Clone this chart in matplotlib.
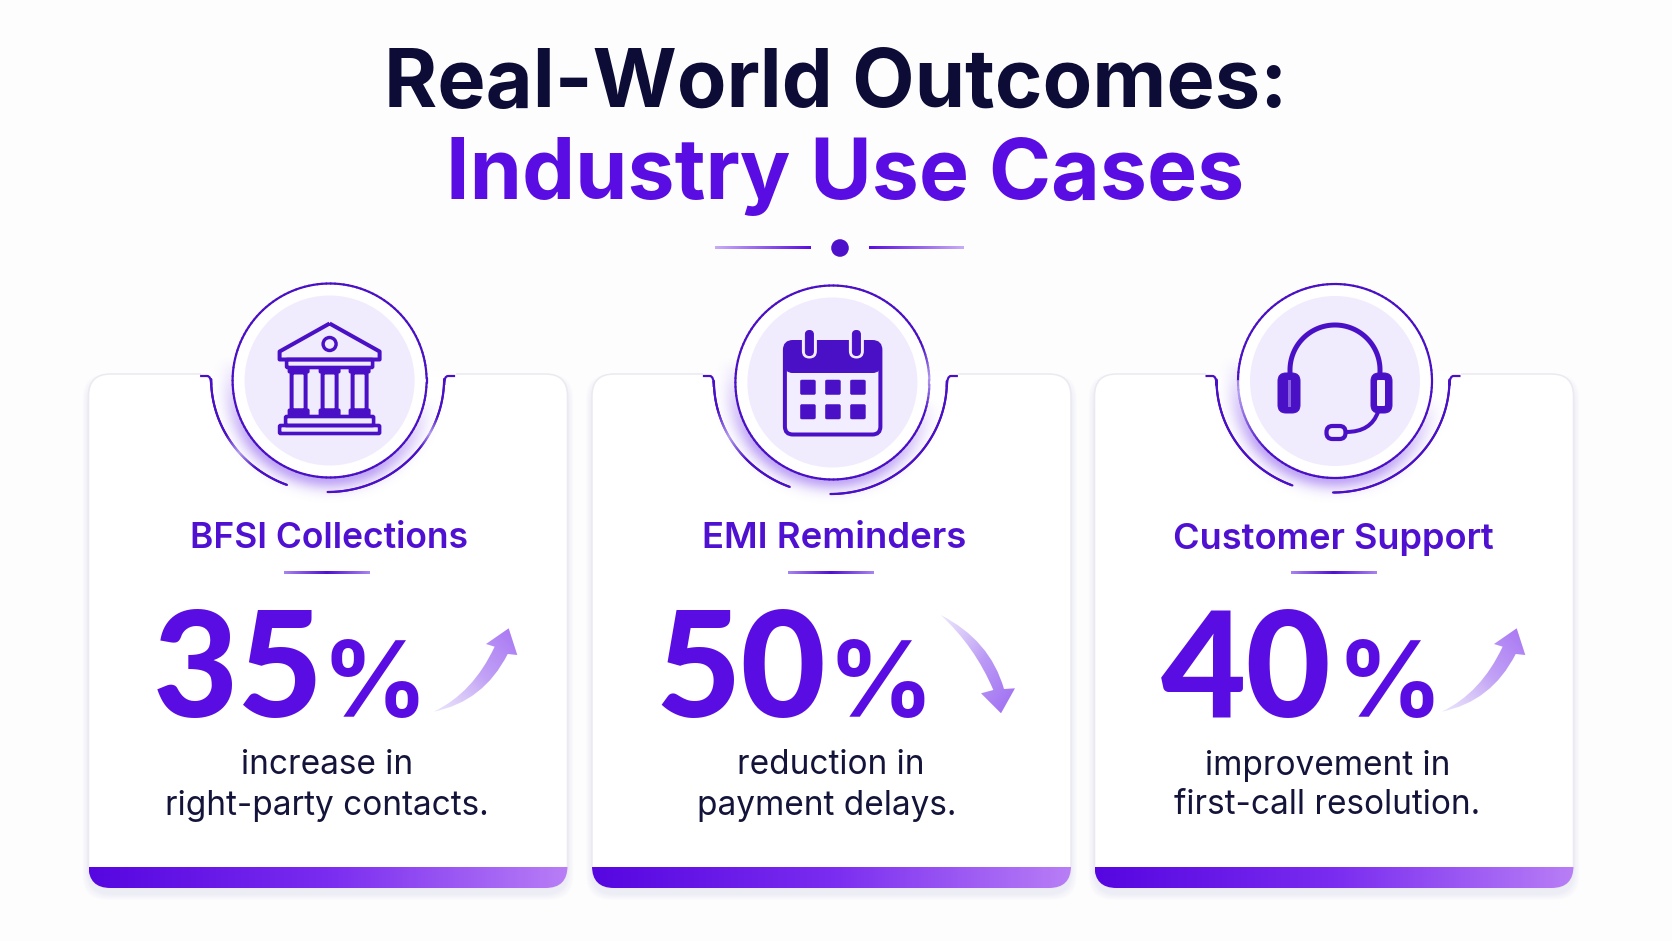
import numpy as np
import matplotlib
matplotlib.use("Agg")
import matplotlib.pyplot as plt
from matplotlib.patches import Circle, FancyBboxPatch, PathPatch, Rectangle
from matplotlib.path import Path
from matplotlib.colors import to_rgb, LinearSegmentedColormap
from matplotlib.collections import LineCollection

# ---- data ----
title_top = "Real-World Outcomes:"
title_bottom = "Industry Use Cases"
categories = ["BFSI Collections", "EMI Reminders", "Customer Support"]
values = [35, 50, 40]
descriptions = [["increase in", "right-party contacts."],
                ["reduction in", "payment delays."],
                ["improvement in", "first-call resolution."]]
directions = ["up", "down", "up"]
icons = ["bank", "calendar", "headset"]

# ---- layout (pixels) ----
W, H = 1672, 941
card_left = [88.5, 592, 1094.5]
card_width = 479
card_top, card_bottom = 374, 888
circle_x = [329.6, 832.4, 1335]
circle_y = [380.5, 382.5, 381]
title_x = [328.5, 834, 1333]
title_size = [25.5, 26.3, 26.0]
rule_x = [327, 831, 1334]
num_x = [238.5, 741, 1246]
pct_x = [374, 880, 1389]
desc_x = [[327, 327], [831, 827], [1328, 1327]]
ring_light = [[], [(-22, 18)], [(135, 212)]]
arc_light = [[(150, 128), (38, 20)], [(165, 135)], [(36, 18)]]

DARK = "#0C0C36"
PURPLE = "#5A0DE2"
INK = "#4A10C6"
FONT = "Inter"
NUM_FONT = "Lato"

fig = plt.figure(figsize=(W / 100, H / 100), dpi=100, facecolor="#FDFDFE")
ax = fig.add_axes([0, 0, 1, 1])
ax.set_xlim(0, W)
ax.set_ylim(H, 0)
ax.axis("off")
ax.set_autoscale_on(False)


def px(v):
    return v * 0.72


def grad(x0, x1, y0, y1, colors, clip=None, z=3):
    t = np.tile(np.linspace(0, 1, 300), (4, 1))
    cmap = LinearSegmentedColormap.from_list("g", colors)
    im = ax.imshow(cmap(t), extent=(x0, x1, y1, y0), origin="upper", aspect="auto",
                   zorder=z, interpolation="bilinear")
    if clip is not None:
        im.set_clip_path(clip)
    return im


def line(xs, ys, lw=3.5, color=INK, z=6):
    ax.plot(xs, ys, color=color, lw=px(lw), zorder=z, solid_capstyle="round",
            solid_joinstyle="round")


def box(x0, y0, x1, y1, fc="none", ec=INK, lw=3.2, r=1.5, z=6):
    ax.add_patch(FancyBboxPatch((x0 + r, y0 + r), x1 - x0 - 2 * r, y1 - y0 - 2 * r,
                                boxstyle=f"round,pad={r},rounding_size={r}",
                                fc=fc, ec=ec, lw=px(lw), zorder=z))


def bank(cx, cy):
    L = "#F1EBFE"
    ax.add_patch(PathPatch(Path([(cx, cy - 57), (cx - 50, cy - 29), (cx - 50, cy - 21),
                                 (cx + 50, cy - 21), (cx + 50, cy - 29), (cx, cy - 57)]),
                           fc="none", ec=INK, lw=px(4), zorder=6, joinstyle="round"))
    ax.add_patch(Circle((cx, cy - 36.5), 6.5, fc="none", ec=INK, lw=px(3.4), zorder=6))
    box(cx - 43, cy - 21, cx + 43, cy - 13, r=1, lw=3.6)
    for dx in (-31, 0, 30):
        box(cx + dx - 10, cy - 13, cx + dx + 10, cy - 8, fc=INK, r=1, lw=2)
        box(cx + dx - 7, cy - 8, cx + dx + 7, cy + 30, fc=L, lw=4, r=0.5)
        box(cx + dx - 10, cy + 29, cx + dx + 10, cy + 35, fc=INK, r=1, lw=2)
    box(cx - 44, cy + 36, cx + 44, cy + 45, r=1, lw=3.6)
    box(cx - 50, cy + 45, cx + 50, cy + 53, r=1, lw=3.6)


def calendar(cx, cy):
    box(cx - 47.5, cy - 40.5, cx + 48, cy + 52, fc="#F3EEFF", lw=4, r=8)
    box(cx - 47.5, cy - 40.5, cx + 48, cy - 10, fc=INK, lw=1, r=8)
    ax.add_patch(Rectangle((cx - 47.5, cy - 22), 95.5, 8, fc=INK, ec="none", zorder=6))
    for dx in (-23, 24):
        box(cx + dx - 7.5, cy - 54, cx + dx + 7.5, cy - 24, fc="#F3EEFF", ec="none", lw=0, r=7.5, z=7)
        box(cx + dx - 4, cy - 52, cx + dx + 4, cy - 27, fc=INK, ec=INK, lw=1, r=4, z=8)
    for y0 in (-2.5, 22):
        for x0 in (-32, -7, 18):
            box(cx + x0, cy + y0, cx + x0 + 15, cy + y0 + 14.5, fc=INK, ec=INK, lw=0.5, r=1.5)


def headset(cx, cy):
    th = np.radians(np.linspace(180, 360, 90))
    xs = np.r_[cx - 45, cx + 45 * np.cos(th), cx + 45]
    ys = np.r_[cy - 4, cy - 11 + 45 * np.sin(th), cy - 4]
    line(xs, ys, lw=5)
    box(cx - 57, cy - 8, cx - 35, cy + 32, fc=INK, ec=INK, lw=1, r=8)
    ax.add_patch(Rectangle((cx - 47, cy - 1), 3, 27, fc="#8A62DE", ec="none", zorder=7))
    box(cx + 36, cy - 8, cx + 57, cy + 32, fc=INK, ec=INK, lw=1, r=8)
    box(cx + 42, cy - 1, cx + 50, cy + 25, fc="#F3EEFF", ec="none", lw=0, r=1, z=7)
    ax.add_patch(PathPatch(Path([(cx + 43, cy + 31), (cx + 36, cy + 51), (cx + 11, cy + 51)],
                                [Path.MOVETO, Path.CURVE3, Path.CURVE3]),
                           fc="none", ec=INK, lw=px(4), zorder=6, capstyle="round"))
    box(cx - 8.5, cy + 45, cx + 10.5, cy + 58, fc="#F3EEFF", lw=4.2, r=6)


ICON = {"bank": bank, "calendar": calendar, "headset": headset}


def glow(cx, cy):
    x = np.linspace(cx - 130, cx + 130, 260)
    y = np.linspace(cy - 130, cy + 130, 260)
    xx, yy = np.meshgrid(x, y)
    d = np.hypot(xx - cx, yy - cy)
    a = np.arctan2(yy - cy, xx - cx)
    weight = np.clip(np.sin(a - 0.2) * 1.2 + 0.05, 0, 1)
    rgba = np.zeros(xx.shape + (4,))
    rgba[..., :3] = to_rgb("#6A2BE8")
    rgba[..., 3] = 0.42 * weight * np.exp(-((d - 97) / 12.0) ** 2)
    ax.imshow(rgba, extent=(x[0], x[-1], y[-1], y[0]), origin="upper", aspect="auto",
              zorder=3, interpolation="bilinear")


def arc_segments(cx, cy, rx, ry, start, stop, light):
    th = np.linspace(start, stop, 140)
    xs = cx + rx * np.cos(np.radians(th))
    ys = cy + ry * np.sin(np.radians(th))
    pts = np.c_[xs, ys]
    segs = np.stack([pts[:-1], pts[1:]], axis=1)
    dark, pale = np.array(to_rgb(INK)), np.array(to_rgb("#B39CF0"))
    mid = (th[:-1] + th[1:]) / 2
    cols = np.tile(dark, (len(mid), 1))
    for a, b in light:
        lo, hi = min(a, b), max(a, b)
        c = (lo + hi) / 2
        w = np.clip(1 - np.abs(mid - c) / ((hi - lo) / 2), 0, 1)[:, None]
        cols = cols * (1 - w) + pale * w
    ax.add_collection(LineCollection(segs, colors=cols, linewidths=px(2.2), zorder=5,
                                     capstyle="round"))


def arrow(kind, dx=0.0):
    if kind == "up":
        v = [(433.6, 711.7), (483.6, 701.7), (507.7, 654), (517.3, 655), (508.7, 628.3),
             (486, 644), (494.6, 646.7), (473, 693), (433.6, 711.7)]
        cols, al = ["#DCCFF9", "#A876F3"], [0.55, 1, 1]
    else:
        v = [(940.7, 615), (990, 640), (1004, 689), (1015, 688.3), (1001, 713.3),
             (981, 693.3), (993.3, 690), (975, 646.7), (940.7, 615)]
        cols, al = ["#D9CBF9", "#9E6CF2"], [0.5, 1, 1]
    v = [(x + dx, y) for x, y in v]
    codes = [Path.MOVETO, Path.CURVE3, Path.CURVE3, Path.LINETO, Path.LINETO,
             Path.LINETO, Path.LINETO, Path.CURVE3, Path.CURVE3]
    p = PathPatch(Path(v, codes), fc="none", ec="none", transform=ax.transData)
    ax.add_patch(p)
    xs, ys = zip(*v)
    n = 200
    xx, yy = np.meshgrid(np.linspace(0, 1, n), np.linspace(0, 1, n))
    t = (xx + yy) / 2 if kind == "down" else (xx + (1 - yy)) / 2
    rgba = LinearSegmentedColormap.from_list("g", cols)(t)
    rgba[..., 3] = np.interp(t, [0, 0.5, 1], al)
    im = ax.imshow(rgba, extent=(min(xs), max(xs), max(ys), min(ys)), origin="upper",
                   aspect="auto", zorder=4, interpolation="bilinear")
    im.set_clip_path(p)


# ---- title ----
ax.text(836, 107, title_top, ha="center", va="baseline", fontsize=58.4, fontweight="bold",
        family=FONT, color=DARK, zorder=8)
ax.text(845, 199, title_bottom, ha="center", va="baseline", fontsize=60.6, fontweight="bold",
        family=FONT, color=PURPLE, zorder=8)
grad(715, 811, 246.6, 249.2, ["#C7ADF7", "#5A0DE2"], z=4)
grad(869, 964, 246.6, 249.2, ["#5A0DE2", "#C7ADF7"], z=4)
ax.add_patch(Circle((840, 248), 8.8, fc="#4F10CC", ec="none", zorder=5))

# ---- cards ----
for i, name in enumerate(categories):
    x0 = card_left[i]
    cx, cy = circle_x[i], circle_y[i]
    # soft shadow
    for k in range(8):
        grow = 12 - k * 1.5
        ax.add_patch(FancyBboxPatch((x0 - grow / 2, card_top + 6 - grow / 2), card_width + grow,
                                    card_bottom - card_top + grow,
                                    boxstyle="round,pad=0,rounding_size=24", fc="#5A4A90",
                                    ec="none", alpha=0.006, zorder=1))
    card = FancyBboxPatch((x0, card_top), card_width, card_bottom - card_top,
                          boxstyle="round,pad=0,rounding_size=22", fc="#FFFFFF", ec="#ECEAF1",
                          lw=px(1.6), zorder=2)
    ax.add_patch(card)
    # gap in the top border
    ax.add_patch(Rectangle((cx - 129, card_top - 3), 255, 6, fc="#FEFEFF", ec="none", zorder=2.5))
    # bottom gradient bar
    clip = FancyBboxPatch((x0, card_top), card_width, card_bottom - card_top,
                          boxstyle="round,pad=0,rounding_size=22", fc="none", ec="none",
                          transform=ax.transData)
    ax.add_patch(clip)
    grad(x0, x0 + card_width, 867, card_bottom, ["#5606E0", "#7A2CF0", "#B87EF6"], clip=clip, z=3)

    # medallion
    glow(cx, cy)
    ax.add_patch(Circle((cx, cy), 97, fc="#FFFFFF", ec="none", zorder=4))
    ax.add_patch(Circle((cx, cy), 85, fc="#F1EBFE", ec="none", zorder=4.5))
    arc_segments(cx, cy, 97, 97, -180, 180, ring_light[i])
    ay = cy - 1.5
    acx = cx - 2
    arc_segments(acx, ay, 116.5, 113, 180, 110.4, arc_light[i][:1])
    arc_segments(acx, ay, 116.5, 113, 0, 90, arc_light[i][1:])
    ty = card_top + 2
    for sgn in (-1, 1):
        xa = acx + sgn * 116.5
        ax.add_patch(PathPatch(Path([(acx + sgn * 127.5, ty), (acx + sgn * 120.5, ty), (xa, ty),
                                     (xa, ay + 6), (xa, ay)],
                                    [Path.MOVETO, Path.LINETO, Path.CURVE3, Path.CURVE3, Path.LINETO]),
                               fc="none", ec=INK, lw=px(2.2), zorder=5))
    ICON[icons[i]](cx, cy)

    # texts
    ax.text(title_x[i], 548.5, name, ha="center", va="baseline", fontsize=title_size[i],
            fontweight="semibold", family=FONT, color="#4F10D2", zorder=8)
    grad(rule_x[i] - 43, rule_x[i] + 43, 571.5, 574.5, ["#A884F0", "#4F10D2", "#A884F0"], z=4)
    ax.text(num_x[i], 717, str(values[i]), ha="center", va="baseline", fontsize=106,
            fontweight="black", family=NUM_FONT, color=PURPLE, zorder=8)
    ax.text(pct_x[i], 717, "%", ha="center", va="baseline", fontsize=75, fontweight="bold",
            family=FONT, color=PURPLE, zorder=8)
    for yb, txt, xt in zip((774.5, 814.5), descriptions[i], desc_x[i]):
        ax.text(xt, yb, txt, ha="center", va="baseline", fontsize=24, family=FONT, color="#14143A",
                zorder=8)
    if directions[i] == "down":
        arrow("down")
    else:
        arrow("up", dx=0 if i == 0 else 1008)

fig.savefig("out.png", dpi=100, facecolor=fig.get_facecolor())
